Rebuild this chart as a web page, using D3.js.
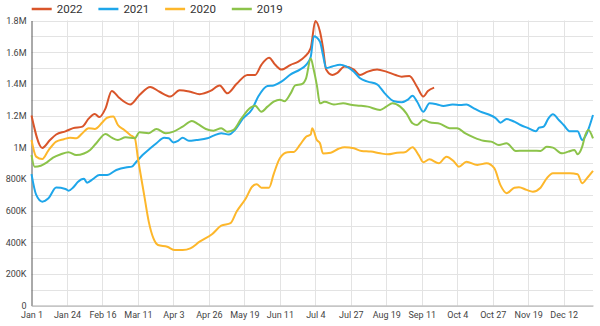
<!DOCTYPE html>
<html>
<head>
<meta charset="utf-8">
<script src="https://cdn.jsdelivr.net/npm/d3@7/dist/d3.min.js"></script>
<style>
  html, body { margin: 0; padding: 0; background: #fff; }
  svg { display: block; font-family: Roboto, "Noto Sans", sans-serif; }
</style>
</head>
<body>
<svg id="chart" width="600" height="326"></svg>
<script>
// Daily volume by day of year (day 0 = Jan 1), one series per year.
const seriesNames = ["2022", "2021", "2020", "2019"];
const seriesColors = ["#D9552A", "#1EA6EA", "#FDB72B", "#8CC34A"];

const days2022 = [0,7,12,16,22,27,33,37,41,44,48,52,57,64,70,77,83,90,96,103,109,116,122,127,133,140,145,149,154,158,162,168,173,177,181,184,187,189,191,195,198,203,209,213,218,224,230,236,240,245,250,254,257,261];
const values2022 = [1200000,995000,1045000,1080000,1100000,1120000,1130000,1180000,1210000,1190000,1245000,1355000,1310000,1270000,1330000,1380000,1350000,1320000,1360000,1350000,1335000,1355000,1390000,1340000,1400000,1456000,1456000,1520000,1565000,1520000,1490000,1520000,1540000,1570000,1625000,1797000,1730000,1625000,1490000,1456000,1467000,1510000,1490000,1456000,1477000,1490000,1477000,1456000,1445000,1450000,1380000,1320000,1355000,1376000];

const days2021 = [0,3,7,11,16,22,24,27,30,34,36,40,44,49,55,62,65,68,72,77,81,86,89,92,95,98,102,107,114,118,123,128,132,137,143,147,153,157,162,168,174,178,181,183,187,189,191,195,200,204,209,213,218,224,229,235,240,244,247,250,254,258,263,267,273,278,282,286,291,296,301,304,308,313,317,322,327,329,332,335,338,342,345,349,354,357,360,364];
const values2021 = [830000,700000,656000,677000,745000,736000,725000,745000,780000,800000,776000,800000,824000,824000,856000,873000,877000,908000,950000,993000,1025000,1060000,1056000,1030000,1040000,1060000,1040000,1045000,1056000,1073000,1088000,1080000,1110000,1180000,1240000,1320000,1387000,1390000,1414000,1460000,1490000,1520000,1570000,1700000,1666000,1580000,1500000,1510000,1520000,1510000,1477000,1435000,1414000,1397000,1340000,1290000,1284000,1300000,1325000,1287000,1224000,1277000,1270000,1260000,1270000,1267000,1270000,1250000,1224000,1208000,1183000,1155000,1178000,1161000,1140000,1120000,1100000,1123000,1130000,1180000,1208000,1170000,1140000,1100000,1100000,1045000,1088000,1203000];

const days2020 = [0,3,7,11,16,21,25,29,33,37,41,46,49,53,56,60,64,67,69,73,76,79,82,88,93,98,103,109,117,123,129,133,139,143,146,149,154,157,161,166,170,174,178,181,182,185,187,189,194,199,203,209,214,220,226,231,237,242,247,251,254,258,264,269,274,277,282,289,295,300,304,308,313,316,321,325,330,334,338,344,349,354,357,360,364];
const values2020 = [1045000,940000,925000,980000,1035000,1050000,1060000,1056000,1088000,1120000,1115000,1157000,1186000,1193000,1140000,1110000,1077000,1056000,930000,700000,530000,425000,382000,371000,350000,350000,361000,403000,450000,504000,520000,593000,677000,750000,766000,744000,744000,830000,930000,968000,970000,1014000,1066000,1080000,1120000,1045000,1025000,960000,965000,990000,1000000,993000,976000,972000,961000,955000,965000,968000,1000000,950000,905000,923000,898000,940000,908000,877000,908000,888000,898000,867000,760000,709000,744000,747000,730000,719000,744000,803000,835000,835000,835000,829000,772000,803000,850000];

const days2019 = [0,2,6,10,14,19,24,29,34,38,42,48,52,56,61,67,70,76,81,87,92,98,104,108,113,118,123,127,131,136,142,145,149,153,157,161,164,168,171,175,178,181,183,185,187,190,196,202,208,213,218,226,230,234,239,243,247,250,254,258,265,271,276,281,287,293,298,303,308,314,319,325,330,334,338,344,348,352,354,357,359,361,364];
const values2019 = [950000,877000,883000,904000,934000,955000,968000,950000,960000,982000,1025000,1083000,1060000,1045000,1062000,1056000,1094000,1088000,1115000,1088000,1098000,1130000,1166000,1145000,1115000,1104000,1120000,1098000,1109000,1180000,1250000,1262000,1224000,1256000,1287000,1300000,1290000,1340000,1390000,1397000,1435000,1560000,1487000,1390000,1277000,1287000,1270000,1277000,1266000,1262000,1256000,1235000,1256000,1277000,1256000,1214000,1151000,1140000,1172000,1157000,1147000,1120000,1120000,1088000,1060000,1040000,1035000,1014000,1025000,976000,978000,978000,976000,1003000,997000,961000,972000,982000,955000,1003000,1077000,1109000,1056000];

// Axis ticks
const xTickDays = [0,23,46,69,92,115,138,161,184,207,230,253,276,299,322,345];
const xTickLabels = ["Jan 1","Jan 24","Feb 16","Mar 11","Apr 3","Apr 26","May 19","Jun 11","Jul 4","Jul 27","Aug 19","Sep 11","Oct 4","Oct 27","Nov 19","Dec 12"];
const yTickValues = [0,200000,400000,600000,800000,1000000,1200000,1400000,1600000,1800000];
const yTickLabels = ["0","200K","400K","600K","800K","1M","1.2M","1.4M","1.6M","1.8M"];
const yGridValues = d3.range(0, 1800001, 100000);

const seriesDays = [days2022, days2021, days2020, days2019];
const seriesValues = [values2022, values2021, values2020, values2019];

const svg = d3.select("#chart");
const plotLeft = 31.5, plotRight = 593, plotTop = 20.5, plotBottom = 305.5;

const x = d3.scaleLinear().domain([0, 364]).range([plotLeft, plotRight]);
const y = d3.scaleLinear().domain([0, 1800000]).range([plotBottom, plotTop]);

// Grid
const grid = svg.append("g");
grid.selectAll("line.h").data(yGridValues).join("line")
  .attr("x1", plotLeft).attr("x2", plotRight)
  .attr("y1", d => Math.round(y(d)) + 0.5).attr("y2", d => Math.round(y(d)) + 0.5)
  .attr("stroke", "#e3e3e3").attr("stroke-width", 1);
grid.selectAll("line.v").data(xTickDays.slice(1)).join("line")
  .attr("x1", d => Math.round(x(d)) + 0.5).attr("x2", d => Math.round(x(d)) + 0.5)
  .attr("y1", plotTop).attr("y2", plotBottom)
  .attr("stroke", "#e3e3e3").attr("stroke-width", 1);

// Y axis
const yAxis = d3.axisLeft(y).tickValues(yTickValues)
  .tickFormat((d, i) => yTickLabels[i]).tickSize(0).tickPadding(5);
const gy = svg.append("g").attr("transform", `translate(${plotLeft},0)`).call(yAxis);
gy.select(".domain").attr("stroke", "#555").attr("stroke-width", 1);
gy.selectAll("text").attr("fill", "#444").attr("font-size", 9).attr("font-family", "Roboto, sans-serif");

// X axis
const xAxis = d3.axisBottom(x).tickValues(xTickDays)
  .tickFormat((d, i) => xTickLabels[i]).tickSize(0).tickPadding(6);
const gx = svg.append("g").attr("transform", `translate(0,${plotBottom})`).call(xAxis);
gx.select(".domain").attr("stroke", "#aaa").attr("stroke-width", 1);
gx.selectAll("text").attr("fill", "#444").attr("font-size", 9).attr("font-family", "Roboto, sans-serif");

// Lines
const line = d3.line()
  .x(d => x(d[0])).y(d => y(d[1]))
  .curve(d3.curveMonotoneX);

seriesNames.forEach((name, i) => {
  const pts = seriesDays[i].map((d, j) => [d, seriesValues[i][j]]);
  svg.append("path").datum(pts)
    .attr("fill", "none")
    .attr("stroke", seriesColors[i])
    .attr("stroke-width", 2)
    .attr("stroke-linejoin", "round")
    .attr("d", line);
});

// Legend
const legend = svg.append("g");
seriesNames.forEach((name, i) => {
  const g = legend.append("g").attr("transform", `translate(${31.7 + i * 66.7},9)`);
  g.append("line").attr("x1", 0).attr("x2", 20).attr("y1", 0).attr("y2", 0)
    .attr("stroke", seriesColors[i]).attr("stroke-width", 2.5);
  g.append("text").attr("x", 25).attr("y", 0).attr("dy", "0.36em")
    .attr("font-size", 11.5).attr("fill", "#333").text(name);
});
</script>
</body>
</html>
